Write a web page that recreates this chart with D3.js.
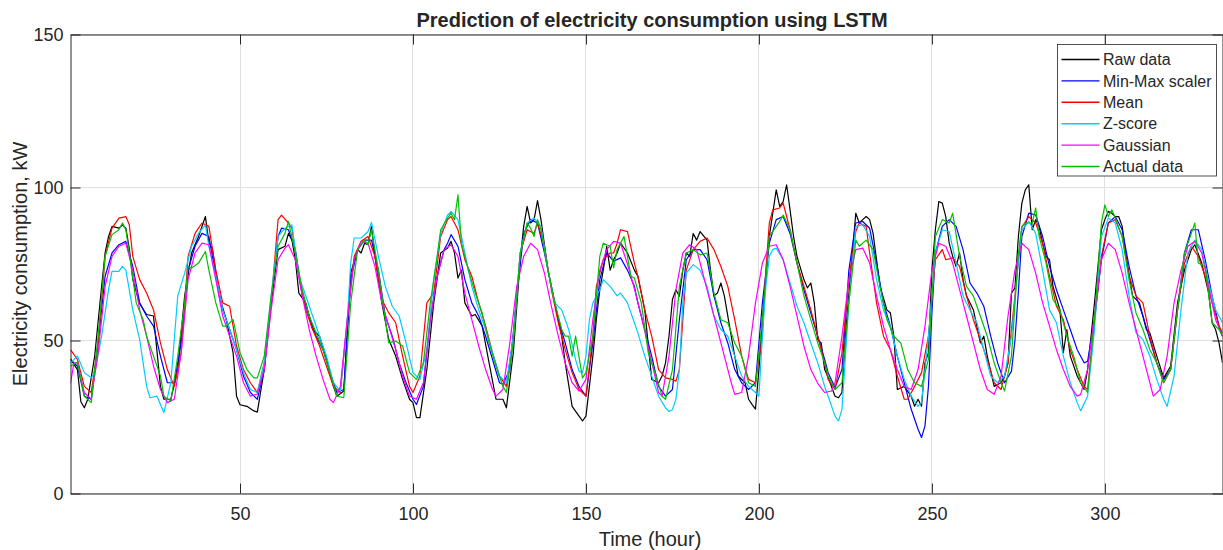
<!DOCTYPE html>
<html>
<head>
<meta charset="utf-8">
<script src="https://cdnjs.cloudflare.com/ajax/libs/d3/7.8.5/d3.min.js"></script>
<style>
  body { margin: 0; background: #ffffff; }
  text { font-family: "Liberation Sans", Arial, Helvetica, sans-serif; fill: #262626; }
</style>
</head>
<body>
<div id="chart"></div>
<script>
// Series values, as [hour, kW]
var rawData = [[1,44],[3,40.5],[4,30],[5,28],[6,30.8],[8,45],[10,67.7],[11,78.6],[12,84],[13,87.3],[15,86.7],[16,87.8],[17,86.7],[18,80],[19,70],[21,62],[23,58.5],[25,58],[27,35],[28,30.8],[30,30.8],[32,40.5],[34,64.6],[36,78.6],[38,84],[40,90.5],[41,82],[42,80],[44,64.5],[46,57],[48,46],[49,31.8],[50,29],[52,28.5],[54,27],[55,26.6],[57,40.5],[59,62.3],[61,79.7],[63,80.8],[64,85],[65,82.8],[66,76.4],[67,65.5],[69,62.3],[71,53.6],[73,51.4],[75,43.8],[77,35],[78,31.8],[80,33.5],[82,72],[84,79.7],[85,78.6],[86,81.8],[87,81.3],[88,87.3],[89,77.5],[91,62.3],[93,50.3],[95,44.9],[97,37.3],[99,30.8],[100,29.7],[101,24.8],[102,24.8],[104,40.5],[106,62.3],[108,78.6],[110,80.2],[111,82.4],[112,78.6],[113,70.4],[114,73],[115,62.3],[117,58],[118,58.5],[120,54.7],[122,42.7],[124,30.8],[126,30.8],[127,28],[129,46],[131,76.4],[132,87.3],[133,93.8],[134,88.4],[135,89.5],[136,95.7],[137,89.5],[139,73],[141,62.3],[143,51.4],[144,42.7],[146,28.5],[148,25.3],[149,23.7],[150,25.3],[152,44.9],[153,56.8],[154,66.6],[155,73],[156,80.8],[157,73],[158,76.4],[159,78.6],[160,81.8],[162,78.6],[164,73],[165,71],[167,60],[169,37.3],[171,36.2],[172,38.4],[173,42.7],[174,51.4],[175,63.4],[176,66.6],[177,64.5],[178,73],[179,78.6],[180,77.5],[181,85],[182,82.8],[183,85.6],[185,82.8],[186,73],[187,64.6],[188,65.5],[189,68.8],[190,64.6],[192,51.4],[194,38.4],[196,36.2],[197,30.8],[198,29.1],[199,27.6],[200,40.5],[201,56.8],[203,84],[204,91.6],[205,99.2],[206,93.8],[207,95.4],[208,100.9],[209,92.7],[210,84],[211,77.5],[213,69.9],[214,67.2],[215,68.8],[216,62.3],[217,50.3],[218,49.2],[219,40.5],[220,38],[222,31.8],[223,31.3],[224,33],[225,51.4],[227,78.6],[228,91.6],[229,88.4],[230,89.5],[231,90.5],[232,89.5],[233,85],[235,67.7],[237,60],[238,59],[239,51.4],[240,34],[242,35],[244,31.8],[245,28.5],[246,30.8],[247,28.5],[248,42.7],[249,46],[250,73],[251,86.2],[252,95.4],[253,94.9],[254,90.5],[255,81.8],[256,77.5],[257,74.2],[258,78.6],[259,69.9],[260,64.6],[262,60],[264,49.2],[265,51.4],[266,44.9],[268,35],[270,36.2],[271,38.4],[272,42.7],[273,65.5],[274,67.2],[275,84],[276,94.9],[277,99.2],[278,100.9],[279,86.2],[280,89.5],[281,87.3],[282,81.8],[283,77.5],[284,76.4],[285,67.7],[287,60],[288,46],[289,53.6],[290,44.9],[292,38.4],[294,34],[295,40.5],[297,62.3],[299,86.2],[300,89.5],[301,92.2],[302,91.6],[303,90.5],[304,90.5],[305,87.3],[306,78.6],[308,64.6],[310,62.3],[312,53.6],[313,52.5],[315,44.9],[317,37.8],[319,41.6],[321,62.3],[323,73],[325,79.7],[326,81.3],[328,75.3],[330,65.5],[331,55.8],[332,53.6],[333,49.2],[334,42.7]];

var minMaxData = [[1,43.8],[3,41.6],[5,31.8],[7,30.8],[9,49.2],[11,71],[13,78.6],[15,81.3],[17,82.4],[19,74.2],[21,62.3],[23,58],[25,54.7],[27,44.9],[29,36.2],[31,36.2],[33,49.2],[35,73],[37,80.8],[39,85],[41,84],[43,71],[45,60],[47,53.6],[49,47],[51,38.4],[53,33],[55,30.8],[57,40.5],[59,62.3],[61,84],[62,86.7],[64,86.2],[66,79.7],[68,64.6],[70,58],[72,51.4],[74,47],[76,39.5],[78,33],[80,34],[82,69.9],[84,79.7],[86,82.8],[88,82.8],[90,73],[92,58],[94,51.4],[96,42.7],[98,36.2],[100,30.8],[101,29.1],[103,35],[105,56.8],[107,71],[109,79.7],[110,81.8],[111,84.6],[113,80.8],[115,69.9],[117,62.3],[119,58],[121,51.4],[123,43.8],[125,36.2],[126,35.7],[128,40.5],[130,64.6],[132,85],[134,89.5],[136,88.4],[138,78.6],[140,67.7],[142,56.8],[144,49.2],[146,40.5],[148,35],[150,31.8],[152,49.2],[154,69.9],[156,78.6],[158,75.9],[160,77],[162,73],[164,67.7],[165,62.3],[167,53.6],[169,44.9],[171,35],[173,31.8],[175,34],[177,56.8],[179,76.4],[181,79.7],[183,79.7],[185,76.4],[187,64.6],[189,55.8],[191,49.2],[193,40.5],[195,36.2],[197,34],[199,36.2],[201,62.3],[203,81.8],[205,89.5],[207,90.5],[209,85],[211,75.3],[213,66.6],[215,59],[217,51.4],[219,43.8],[220,39.5],[222,34.6],[224,40.5],[226,73],[228,88.4],[230,88.9],[232,86.7],[234,75.3],[236,62.3],[238,54.7],[240,44.9],[242,36.2],[244,27.6],[246,21],[247,18.3],[248,22.1],[249,35],[250,59],[251,78.6],[253,87.3],[255,89.5],[257,87.3],[259,79.7],[261,68.8],[263,65.5],[265,61.2],[267,51.4],[269,42.7],[271,36.2],[273,40],[274,50],[275,66],[276,84],[278,91.6],[280,91],[282,84],[284,74.2],[286,66.6],[288,60],[290,53.6],[292,47],[294,42.7],[295,43.2],[297,56.8],[299,76.4],[301,88.4],[303,90.5],[305,86.2],[307,74.2],[309,64.6],[311,58],[313,50.3],[315,42.7],[317,37.3],[319,40.5],[321,60],[323,78.6],[325,86.2],[327,86.2],[329,76.4],[331,64.6],[333,54.7],[334,51.4]];

var meanData = [[1,47],[3,43.8],[5,35],[7,33],[9,49.2],[11,77.5],[13,86.7],[15,90],[17,90.5],[18,87.8],[19,77.5],[21,69.9],[23,65.5],[25,60],[27,49.2],[29,40.5],[31,35],[33,46],[35,77.5],[37,85],[39,88.4],[41,87.3],[43,73],[45,62.3],[47,61.2],[49,48.2],[51,40.5],[53,36.2],[55,33],[57,42.7],[59,62.3],[61,89.5],[62,91],[64,88.4],[65,86.7],[67,71],[69,60],[71,53.6],[73,48.2],[75,41.6],[77,35],[79,33],[81,56.8],[83,77.5],[85,82.4],[87,84],[89,77.5],[91,63.4],[93,59],[95,55.8],[97,44.9],[99,35],[100,33],[102,38.4],[104,62.3],[106,65.5],[108,84],[110,89.5],[111,90.5],[113,86.2],[115,76.4],[117,71],[119,62.3],[121,54.7],[123,46],[125,38.4],[127,35],[129,51.4],[131,78.6],[133,86.2],[135,85],[136,88.4],[138,80.8],[140,66.6],[142,55.8],[144,47],[146,39.5],[148,34],[150,31.8],[152,51.4],[153,67.7],[155,76.4],[157,78.6],[158,78.6],[159,81.8],[160,86.2],[162,85.6],[164,75.3],[165,71],[167,60],[169,51.4],[171,40.5],[173,37.8],[175,37.3],[176,36.7],[177,40.5],[179,73],[181,79.7],[183,82.4],[185,83.5],[187,79.7],[189,74.2],[191,67.7],[193,56.8],[195,44.9],[197,37.3],[199,36.2],[201,51.4],[202,73],[203,88.4],[204,92.7],[206,93.3],[207,94.9],[209,86.2],[211,75.3],[213,67.7],[215,60],[217,51.4],[219,42.7],[220,37.3],[222,34],[224,46],[226,69.9],[228,85.6],[229,88.4],[231,87.3],[232,78.6],[234,62.3],[236,51.4],[238,47],[240,38.4],[242,30.8],[243,30.8],[245,35],[247,39.5],[249,51.4],[251,76.4],[253,79.7],[254,76.4],[256,77],[258,74.2],[260,64.6],[262,56.8],[264,50.3],[266,43.8],[268,36.2],[270,34],[272,42.7],[274,64.6],[275,76],[276,87],[278,90.5],[280,88.4],[282,81.8],[284,71],[286,61.2],[288,56.8],[290,47],[292,40.5],[294,35],[295,34],[297,56.8],[299,77.5],[301,88.4],[303,89.5],[305,84],[307,71],[309,64.6],[311,62.3],[313,51.4],[315,42.7],[317,36.2],[319,40.5],[321,60],[323,75.3],[325,80.8],[327,77.5],[329,71],[331,62.3],[333,54.7],[334,52.5]];

var zScoreData = [[1,42.7],[3,44.9],[5,39.5],[7,37.8],[8,39.5],[10,51.4],[12,66.6],[13,72.6],[15,72.6],[16,74.2],[17,73],[19,60],[21,50.3],[23,35],[24,31.3],[26,31.8],[28,26.4],[30,36.2],[32,64.6],[34,72],[36,80.8],[38,85],[40,87.8],[41,80.8],[43,71],[45,60],[47,53.6],[49,47],[51,39.5],[53,34],[55,33],[57,42.7],[59,64.6],[61,84],[63,86.7],[65,87.8],[67,71],[69,64.6],[71,58],[73,51.4],[75,44.9],[77,36.2],[79,33.5],[81,56.8],[82,75.3],[83,83.5],[85,83.5],[87,85.6],[88,88.6],[90,77.5],[92,67.7],[94,61.2],[96,58],[98,49.2],[100,39.5],[102,37.3],[104,47],[106,69.9],[108,85],[110,91],[111,92.2],[113,89.5],[115,78.6],[117,67.7],[119,60],[121,53.6],[123,46],[125,38.4],[127,36.2],[129,51.4],[131,78.6],[133,88.4],[135,90],[137,87.3],[139,73],[141,62.3],[143,60],[145,53.6],[147,43.8],[148,40],[149,39.5],[150,44.9],[151,56.8],[152,62.3],[154,66.6],[155,69.9],[157,67.7],[159,64.6],[160,65.5],[162,62.3],[164,55.8],[165,52.5],[167,44.9],[169,38.4],[171,31.8],[173,28],[174,26.8],[175,27.4],[176,30.8],[177,40.5],[178,62.3],[179,72],[181,74.8],[183,73],[185,67.7],[187,58],[189,53.6],[191,51.4],[193,44.9],[195,38.4],[197,35],[199,33],[200,31.8],[201,51.4],[202,67.7],[203,77.5],[204,79.7],[205,80.2],[207,76.4],[209,68.8],[211,61.2],[213,55.8],[215,49.2],[217,42.7],[219,35],[220,31.8],[222,25.3],[223,23.7],[224,27.5],[226,62.3],[228,87.3],[230,87.8],[232,84],[234,69.9],[236,60],[238,54.7],[240,44.9],[242,37.3],[244,31.8],[246,28.5],[247,29.7],[249,51.4],[251,78.6],[253,86.2],[255,85.6],[257,75.3],[259,64.6],[261,60],[263,55.8],[265,47],[267,38.4],[269,36.2],[271,38.4],[273,51.4],[275,76],[276,86],[278,88.9],[280,85],[282,73],[284,60],[286,55.8],[288,44.9],[290,36.2],[292,29.7],[293,27],[295,31.8],[297,53.6],[299,84],[301,90],[303,88.4],[305,79.7],[307,64.6],[309,52.5],[311,50.3],[313,44.9],[315,37.3],[317,30.8],[318,28.5],[320,38.4],[322,60],[324,78.6],[326,82.8],[328,79.7],[330,68.8],[332,60],[334,55.8]];

var gaussianData = [[1,36],[2,42.7],[3,42.7],[5,33],[7,30.8],[9,46],[11,67.7],[13,77.5],[15,80.8],[17,81.8],[19,73],[21,60],[23,51.4],[25,41.6],[27,34],[29,29.7],[31,30.8],[33,46],[35,69.9],[37,78.6],[39,81.8],[41,81.3],[43,69.9],[45,58],[47,51.4],[49,44.9],[51,36.2],[53,31.8],[55,32.5],[57,40.5],[59,60],[61,76.4],[63,80.2],[64,81.3],[66,76.4],[68,64.6],[70,53.6],[72,44.9],[74,37.3],[76,30.8],[77,29.7],[79,35],[81,56.8],[83,76.4],[85,82.4],[87,81.8],[89,74.2],[91,62.3],[93,54.7],[95,47],[97,38.4],[99,31.8],[101,30.8],[103,36.2],[105,56.8],[107,71],[109,79.7],[111,81.3],[113,77.5],[115,65.5],[117,56.8],[119,48.2],[121,40.5],[123,34],[124,31.8],[126,34],[128,49.2],[130,67.7],[132,77.5],[134,81.8],[136,79.7],[138,72],[140,61.2],[142,51.4],[144,42.7],[146,36.2],[148,33.5],[150,37.3],[152,56.8],[154,73],[156,79.7],[158,82.4],[160,81.8],[162,75],[164,67],[166,58],[168,48],[170,38],[171,33],[172,31.8],[174,44.9],[176,66.6],[178,78.6],[180,81.3],[182,79.7],[184,71],[186,62.3],[188,53.6],[190,44.9],[192,36.2],[193,32.4],[195,33],[197,44.9],[199,62.3],[201,75.3],[203,80.8],[205,81.3],[207,76.4],[209,67.7],[211,58],[213,48.2],[215,40.5],[217,36],[219,33],[221,33.5],[222,36.2],[224,51.4],[226,69.9],[228,79.7],[230,80.2],[232,75.3],[234,64.6],[236,54.7],[238,47],[240,40.5],[242,35],[244,34],[246,40.5],[248,54.7],[250,73],[252,81.8],[254,80.8],[256,75.3],[258,66.6],[260,58],[262,49.2],[264,40.5],[266,34],[268,32.4],[270,38.4],[272,58],[274,73],[276,81.8],[278,79.7],[280,72],[282,62.3],[284,54.7],[286,47],[288,40.5],[290,35],[292,31.8],[293,32.4],[295,40.5],[297,58],[299,76.4],[301,81.8],[303,79.7],[305,72],[307,62.3],[309,53.6],[311,44.9],[313,36.2],[314,31.8],[316,34],[318,44.9],[320,62.3],[322,73],[324,80.8],[326,82.4],[328,78.6],[330,67.7],[332,56.8],[334,51.4]];

var actualData = [[1,41.6],[3,43],[5,31.8],[7,29.7],[9,51.4],[11,77.5],[13,84.6],[15,86.2],[16,88.4],[17,86.2],[18,78.6],[20,62.3],[22,56.8],[23,51.4],[25,44.9],[27,38.4],[28,31.8],[30,30.2],[32,44.9],[34,62.3],[35,74.2],[36,73.7],[38,75.3],[40,79.1],[41,73],[43,62.3],[45,54.7],[46,54.7],[48,56.8],[50,46],[52,40.5],[54,37.8],[55,37.8],[57,44.9],[59,64.6],[61,80.8],[63,85],[64,88.9],[66,78.6],[68,66.6],[70,58],[72,52.5],[74,47],[76,39.5],[78,31.8],[80,31.3],[82,62.3],[84,79.7],[86,82.8],[87,81.3],[88,86.2],[90,73],[92,56.8],[93,49.2],[95,49.8],[97,48.2],[99,39.5],[101,37.3],[103,42.7],[105,62.3],[107,77.5],[108,86.2],[110,90],[111,91.6],[112,89.5],[113,97.6],[114,81.8],[116,73],[118,65.5],[120,59],[122,49.2],[124,41.6],[126,35],[127,33],[129,49.2],[131,78.6],[133,88.4],[134,86.7],[135,84],[136,89.5],[137,86.2],[139,73],[141,62.3],[143,53.6],[144,51.4],[145,51.4],[146,44.9],[147,51.4],[149,37.8],[150,39.5],[152,51.4],[154,77.5],[155,81.8],[157,80.8],[158,73.7],[159,79.7],[161,84],[163,71],[164,70.4],[166,62.3],[168,46],[170,39.5],[172,31.8],[173,30.8],[175,40.5],[177,67.7],[179,78.6],[181,79.7],[183,78],[185,78.6],[187,65.5],[189,56.8],[191,55.8],[193,49.2],[195,44.9],[197,36.2],[199,35],[201,56.8],[203,84],[205,87.3],[206,88.9],[207,91],[209,86.2],[211,75.3],[213,64.6],[215,56.8],[217,49.2],[219,42.7],[220,38.4],[222,34],[224,36.2],[226,62.3],[228,82.8],[229,80.8],[231,82.8],[233,79.7],[235,67.7],[237,56.8],[239,51.4],[241,49.2],[243,40.5],[245,36.2],[247,35],[249,43.8],[251,84],[253,89.5],[255,88.4],[256,91.6],[258,77.5],[260,67.7],[262,64.5],[264,58],[266,51.4],[268,42.7],[270,36.2],[271,33.5],[273,44.9],[275,78.6],[276,87.3],[277,88.4],[279,88.4],[280,93.3],[281,84],[283,75.3],[285,63.4],[287,60],[289,51.4],[291,44.9],[293,36.2],[295,33],[297,56.8],[299,88.4],[300,94.3],[301,90.5],[302,92.7],[303,90],[305,84],[307,69.9],[309,59],[311,53.6],[313,47],[315,42.7],[317,36.2],[319,40.5],[321,60],[323,78.6],[325,85],[326,88.4],[327,75.3],[329,74.2],[331,55.8],[333,53.6],[334,51.4]];

var seriesNames = ["Raw data", "Min-Max scaler", "Mean", "Z-score", "Gaussian", "Actual data"];
var seriesColors = ["#000000", "#0000ff", "#ff0000", "#00ccff", "#ff00ff", "#00c000"];
var allSeries = [rawData, minMaxData, meanData, zScoreData, gaussianData, actualData];

var xTicks = [50, 100, 150, 200, 250, 300];
var yTicks = [0, 50, 100, 150];
var xDomain = [1, 334];
var yDomain = [0, 150];

// Area of the graph
var svgWidth = 1223;
var svgHeight = 550;

var margin = {
  top: 34.5,
  right: 0.5,
  bottom: 56.5,
  left: 70.5
};

var width = svgWidth - margin.left - margin.right;
var height = svgHeight - margin.top - margin.bottom;

var svg = d3
  .select("#chart")
  .append("svg")
  .attr("width", svgWidth)
  .attr("height", svgHeight);

var chartGroup = svg.append("g")
  .attr("transform", `translate(${margin.left}, ${margin.top})`);

var xLinearScale = d3.scaleLinear().domain(xDomain).range([0, width]);
var yLinearScale = d3.scaleLinear().domain(yDomain).range([height, 0]);

// Grid lines
chartGroup.append("g")
  .selectAll("line")
  .data(xTicks)
  .enter()
  .append("line")
  .attr("x1", d => Math.round(xLinearScale(d)))
  .attr("x2", d => Math.round(xLinearScale(d)))
  .attr("y1", 0)
  .attr("y2", height)
  .attr("stroke", "#dfdfdf")
  .attr("stroke-width", 1);

chartGroup.append("g")
  .selectAll("line")
  .data(yTicks)
  .enter()
  .append("line")
  .attr("x1", 0)
  .attr("x2", width)
  .attr("y1", d => yLinearScale(d))
  .attr("y2", d => yLinearScale(d))
  .attr("stroke", "#dfdfdf")
  .attr("stroke-width", 1);

// Lines, clipped to the axes box
svg.append("defs").append("clipPath")
  .attr("id", "plotClip")
  .append("rect")
  .attr("width", width)
  .attr("height", height);

var lineGen = d3.line()
  .x(d => xLinearScale(d[0]))
  .y(d => yLinearScale(d[1]));

chartGroup.append("g")
  .attr("clip-path", "url(#plotClip)")
  .selectAll("path")
  .data(allSeries)
  .enter()
  .append("path")
  .attr("d", d => lineGen(d))
  .attr("fill", "none")
  .attr("stroke", (d, i) => seriesColors[i])
  .attr("stroke-width", 1.2)
  .attr("stroke-linejoin", "round");

// Axes with inward ticks on all four sides
var bottomAxis = d3.axisBottom(xLinearScale)
  .tickValues(xTicks)
  .tickSizeInner(-10)
  .tickSizeOuter(0)
  .tickPadding(14);

var leftAxis = d3.axisLeft(yLinearScale)
  .tickValues(yTicks)
  .tickSizeInner(-10)
  .tickSizeOuter(0)
  .tickPadding(7);

var topAxis = d3.axisTop(xLinearScale)
  .tickValues(xTicks)
  .tickSizeInner(-10)
  .tickSizeOuter(0)
  .tickFormat("");

var rightAxis = d3.axisRight(yLinearScale)
  .tickValues(yTicks)
  .tickSizeInner(-10)
  .tickSizeOuter(0)
  .tickFormat("");

var xAxis = chartGroup.append("g")
  .attr("transform", `translate(0, ${height})`)
  .call(bottomAxis);

var yAxis = chartGroup.append("g")
  .call(leftAxis);

chartGroup.append("g").call(topAxis);
chartGroup.append("g")
  .attr("transform", `translate(${width}, 0)`)
  .call(rightAxis);

chartGroup.selectAll(".domain, .tick line")
  .attr("stroke", "#262626")
  .attr("stroke-width", 1);

chartGroup.selectAll(".tick text")
  .style("font-size", "18px")
  .attr("fill", "#262626");

// Title and axis labels
svg.append("text")
  .attr("x", 652)
  .attr("y", 26.5)
  .attr("text-anchor", "middle")
  .style("font-size", "20px")
  .style("font-weight", "bold")
  .attr("fill", "#000000")
  .text("Prediction of electricity consumption using LSTM");

svg.append("text")
  .attr("x", 650)
  .attr("y", 546)
  .attr("text-anchor", "middle")
  .style("font-size", "20px")
  .text("Time (hour)");

svg.append("text")
  .attr("transform", "rotate(-90)")
  .attr("x", -264)
  .attr("y", 27)
  .attr("text-anchor", "middle")
  .style("font-size", "20px")
  .text("Electricity consumption, kW");

// Legend
var legendGroup = svg.append("g")
  .attr("transform", "translate(1057.5, 44.5)");

legendGroup.append("rect")
  .attr("width", 159)
  .attr("height", 131.5)
  .attr("fill", "#ffffff")
  .attr("stroke", "#262626")
  .attr("stroke-width", 0.8);

var legendItems = legendGroup.selectAll(".legend-item")
  .data(seriesNames)
  .enter()
  .append("g")
  .attr("class", "legend-item")
  .attr("transform", (d, i) => `translate(0, ${15 + i * 21.4})`);

legendItems.append("line")
  .attr("x1", 4)
  .attr("x2", 42)
  .attr("stroke", (d, i) => seriesColors[i])
  .attr("stroke-width", 1.4);

legendItems.append("text")
  .attr("x", 45.5)
  .attr("dy", "0.35em")
  .style("font-size", "16px")
  .attr("fill", "#000000")
  .text(d => d);
</script>
</body>
</html>
